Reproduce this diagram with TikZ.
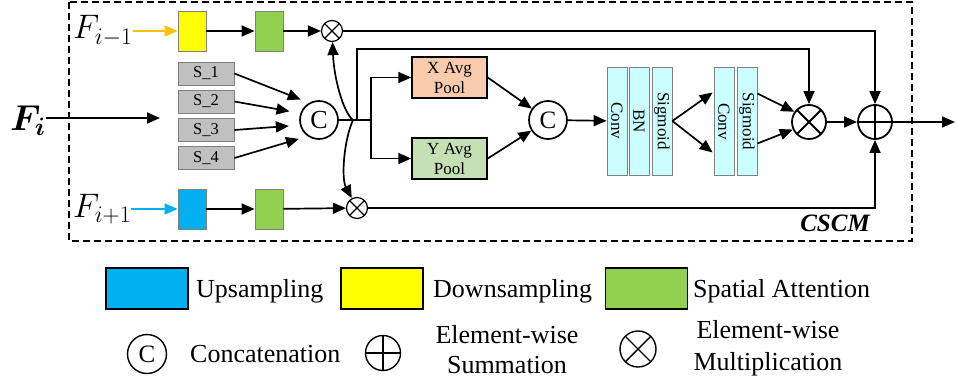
\RequirePackage{fix-cm}
\documentclass[tikz,border=0pt]{standalone}
\usepackage{amsmath,bm}
\usepackage{fontspec}
\setmainfont{Liberation Serif}
\usetikzlibrary{arrows.meta,calc}

\definecolor{dsyellow}{HTML}{FFFF00}
\definecolor{sagreen}{HTML}{92D050}
\definecolor{upblue}{HTML}{00B0F0}
\definecolor{inorange}{HTML}{FFC000}
\definecolor{sgray}{HTML}{C0C0C0}
\definecolor{xpeach}{HTML}{F8CBAD}
\definecolor{ygreen}{HTML}{C5E0B4}
\definecolor{barcyan}{HTML}{CCFFFF}

\tikzstyle{arr}=[draw, line width=1.7pt, -{Triangle[length=13pt,width=11pt]}]
\tikzstyle{flabel}=[inner sep=0pt, font=\fontsize{34}{34}\selectfont]
\tikzstyle{block}=[rectangle, draw=gray, line width=0.8pt, minimum width=28pt, minimum height=40pt, inner sep=0pt]
\tikzstyle{sbox}=[rectangle, draw=gray, fill=sgray, line width=0.8pt, minimum width=56pt, minimum height=23pt, inner sep=0pt, font=\fontsize{16.5}{16.5}\selectfont]
\tikzstyle{pool}=[rectangle, draw, line width=1.5pt, minimum width=75pt, minimum height=41pt, inner sep=0pt, align=center, font=\fontsize{17}{20}\selectfont]
\tikzstyle{bar}=[rectangle, draw=gray, fill=barcyan, line width=0.8pt, minimum width=20pt, minimum height=108pt, inner sep=0pt, font=\fontsize{17}{17}\selectfont]
\tikzstyle{catop}=[circle, draw, line width=1.7pt, minimum size=38pt, inner sep=0pt, font=\fontsize{26}{26}\selectfont]
\tikzstyle{mulop}=[circle, draw, inner sep=0pt, path picture={
  \draw (path picture bounding box.north west) -- (path picture bounding box.south east)
        (path picture bounding box.north east) -- (path picture bounding box.south west);}]
\tikzstyle{addop}=[circle, draw, inner sep=0pt, path picture={
  \draw (path picture bounding box.north) -- (path picture bounding box.south)
        (path picture bounding box.west) -- (path picture bounding box.east);}]
\tikzstyle{lgbox}=[rectangle, draw, line width=1.8pt, minimum width=82pt, minimum height=41pt, inner sep=0pt]
\tikzstyle{lgtext}=[inner sep=0pt, align=center, font=\fontsize{26}{30}\selectfont]

\begin{document}
\begin{tikzpicture}[x=1pt, y=-1pt]
\useasboundingbox (0,0) rectangle (957,385);

% CSCM frame
\draw[line width=1.3pt, dash pattern=on 7pt off 4pt] (69,2) rectangle (912,241);
\node[font=\fontsize{25}{25}\selectfont\bfseries\itshape] (cscm) at (835,223) {CSCM};

% inputs
\node[flabel, anchor=base west] (fm1) at (73,39) {$F_{i-1}$};
\node[flabel, anchor=base west, font=\fontsize{36}{36}\selectfont] (fi) at (10,130) {$\bm{F}_{\bm{i}}$};
\node[flabel, anchor=base west] (fp1) at (73,217) {$F_{i+1}$};
\coordinate (fin) at (160,118);

% top and bottom branches
\node[block, fill=dsyellow] (down) at (192,31) {};
\node[block, fill=sagreen] (sa1) at (269,31) {};
\node[mulop, minimum size=21pt, line width=1.2pt] (mul1) at (332,31) {};
\node[block, fill=upblue] (up) at (192,209) {};
\node[block, fill=sagreen] (sa2) at (269,209) {};
\node[mulop, minimum size=21pt, line width=1.2pt] (mul2) at (357,208) {};

% scales
\foreach \k/\y in {1/73.5,2/101.5,3/130,4/158}
  \node[sbox] (s\k) at (206,\y) {S\_\k};
\node[catop] (cat1) at (319,120) {C};

% pooling branch
\node[pool, fill=xpeach] (xpool) at (449.5,77.5) {X Avg\\Pool};
\node[pool, fill=ygreen] (ypool) at (449.5,158.5) {Y Avg\\Pool};
\node[catop, font=\fontsize{25}{25}\selectfont] (cat2) at (548,120) {C};
\node[bar] (conv1) at (617,121) {\rotatebox{-90}{Conv}};
\node[bar] (bn) at (639,121) {\rotatebox{-90}{BN}};
\node[bar] (sig1) at (662,121) {\rotatebox{-90}{Sigmoid}};
\node[bar] (conv2) at (724,121.5) {\rotatebox{-90}{Conv}};
\node[bar] (sig2) at (747,121.5) {\rotatebox{-90}{Sigmoid}};
\node[mulop, minimum size=34pt, line width=1.8pt] (mul3) at (809,122) {};
\node[addop, minimum size=34pt, line width=1.8pt] (add) at (875,122) {};
\coordinate (fout) at (955,122);

\coordinate (j0) at (353,120);
\coordinate (j1) at (357,120);
\coordinate (j2) at (371,120);
\coordinate (tp) at (357,49);

% connections
\draw[arr, draw=inorange, line width=1.4pt] (fm1.east |- down.west) -- (down.west);
\draw[arr, draw=upblue, line width=1.4pt] (fp1.east |- up.west) -- (up.west);
\draw[arr] (fi.east |- fin) -- (fin);
\path (down) edge[arr] (sa1)
      (sa1) edge[arr] (mul1)
      (up) edge[arr] (sa2)
      (sa2) edge[arr] (mul2);
\draw[arr, shorten >=9pt] (s1.east) -- (cat1.120);
\draw[arr, shorten >=11pt] (s2.east) -- (cat1.160);
\draw[arr, shorten >=11pt] (s3.east) -- (cat1.195);
\draw[arr, shorten >=9pt] (s4.east) -- (cat1.235);
\draw[line width=1.7pt] (cat1) -- (j2);
\draw[arr] (j0) .. controls (343,112) and (334,78) .. (mul1);
\draw[arr] (j0) .. controls (344,140) and (341,178) .. (mul2);
\draw[arr] (j1) -- (tp) -| (mul3);
\draw[arr] (j2) |- (xpool);
\draw[arr] (j2) |- (ypool);
\draw[arr] (xpool.east) -- (cat2);
\draw[arr] (ypool.east) -- (cat2);
\draw[arr] (cat2) -- (conv1);
\draw[arr] (sig1.east) -- ($(conv2.west)+(-1,-29)$);
\draw[arr] (sig1.east) -- ($(conv2.west)+(-1,31)$);
\draw[arr] ($(sig2.east)+(0,-28)$) -- (mul3.145);
\draw[arr] ($(sig2.east)+(0,22)$) -- (mul3.205);
\draw[arr] (mul1) -| (add);
\draw[arr] (mul2) -| (add);
\path (mul3) edge[arr] (add);
\draw[arr] (add) -- (fout);

% legend
\node[lgbox, fill=upblue] (lgup) at (147,288.5) {};
\node[lgtext, anchor=base west] (lguptxt) at (196,297) {Upsampling};
\node[lgbox, fill=dsyellow] (lgdown) at (382,288.5) {};
\node[lgtext, anchor=base west] (lgdowntxt) at (433,297) {Downsampling};
\node[lgbox, fill=sagreen] (lgsa) at (646.5,288.5) {};
\node[lgtext, anchor=base west] (lgsatxt) at (693,297) {Spatial Attention};
\node[catop, minimum size=39pt, line width=1.4pt, font=\fontsize{25}{25}\selectfont] (lgcat) at (147,354) {C};
\node[lgtext, anchor=base west] (lgcattxt) at (190,362) {Concatenation};
\node[addop, minimum size=35pt, line width=1.4pt] (lgadd) at (383,353) {};
\node[lgtext] (lgaddtxt) at (507,350) {Element-wise\\Summation};
\node[mulop, minimum size=36pt, line width=1.4pt] (lgmul) at (638,349) {};
\node[lgtext, font=\fontsize{26}{32}\selectfont] (lgmultxt) at (768,348) {Element-wise\\Multiplication};
\end{tikzpicture}
\end{document}
